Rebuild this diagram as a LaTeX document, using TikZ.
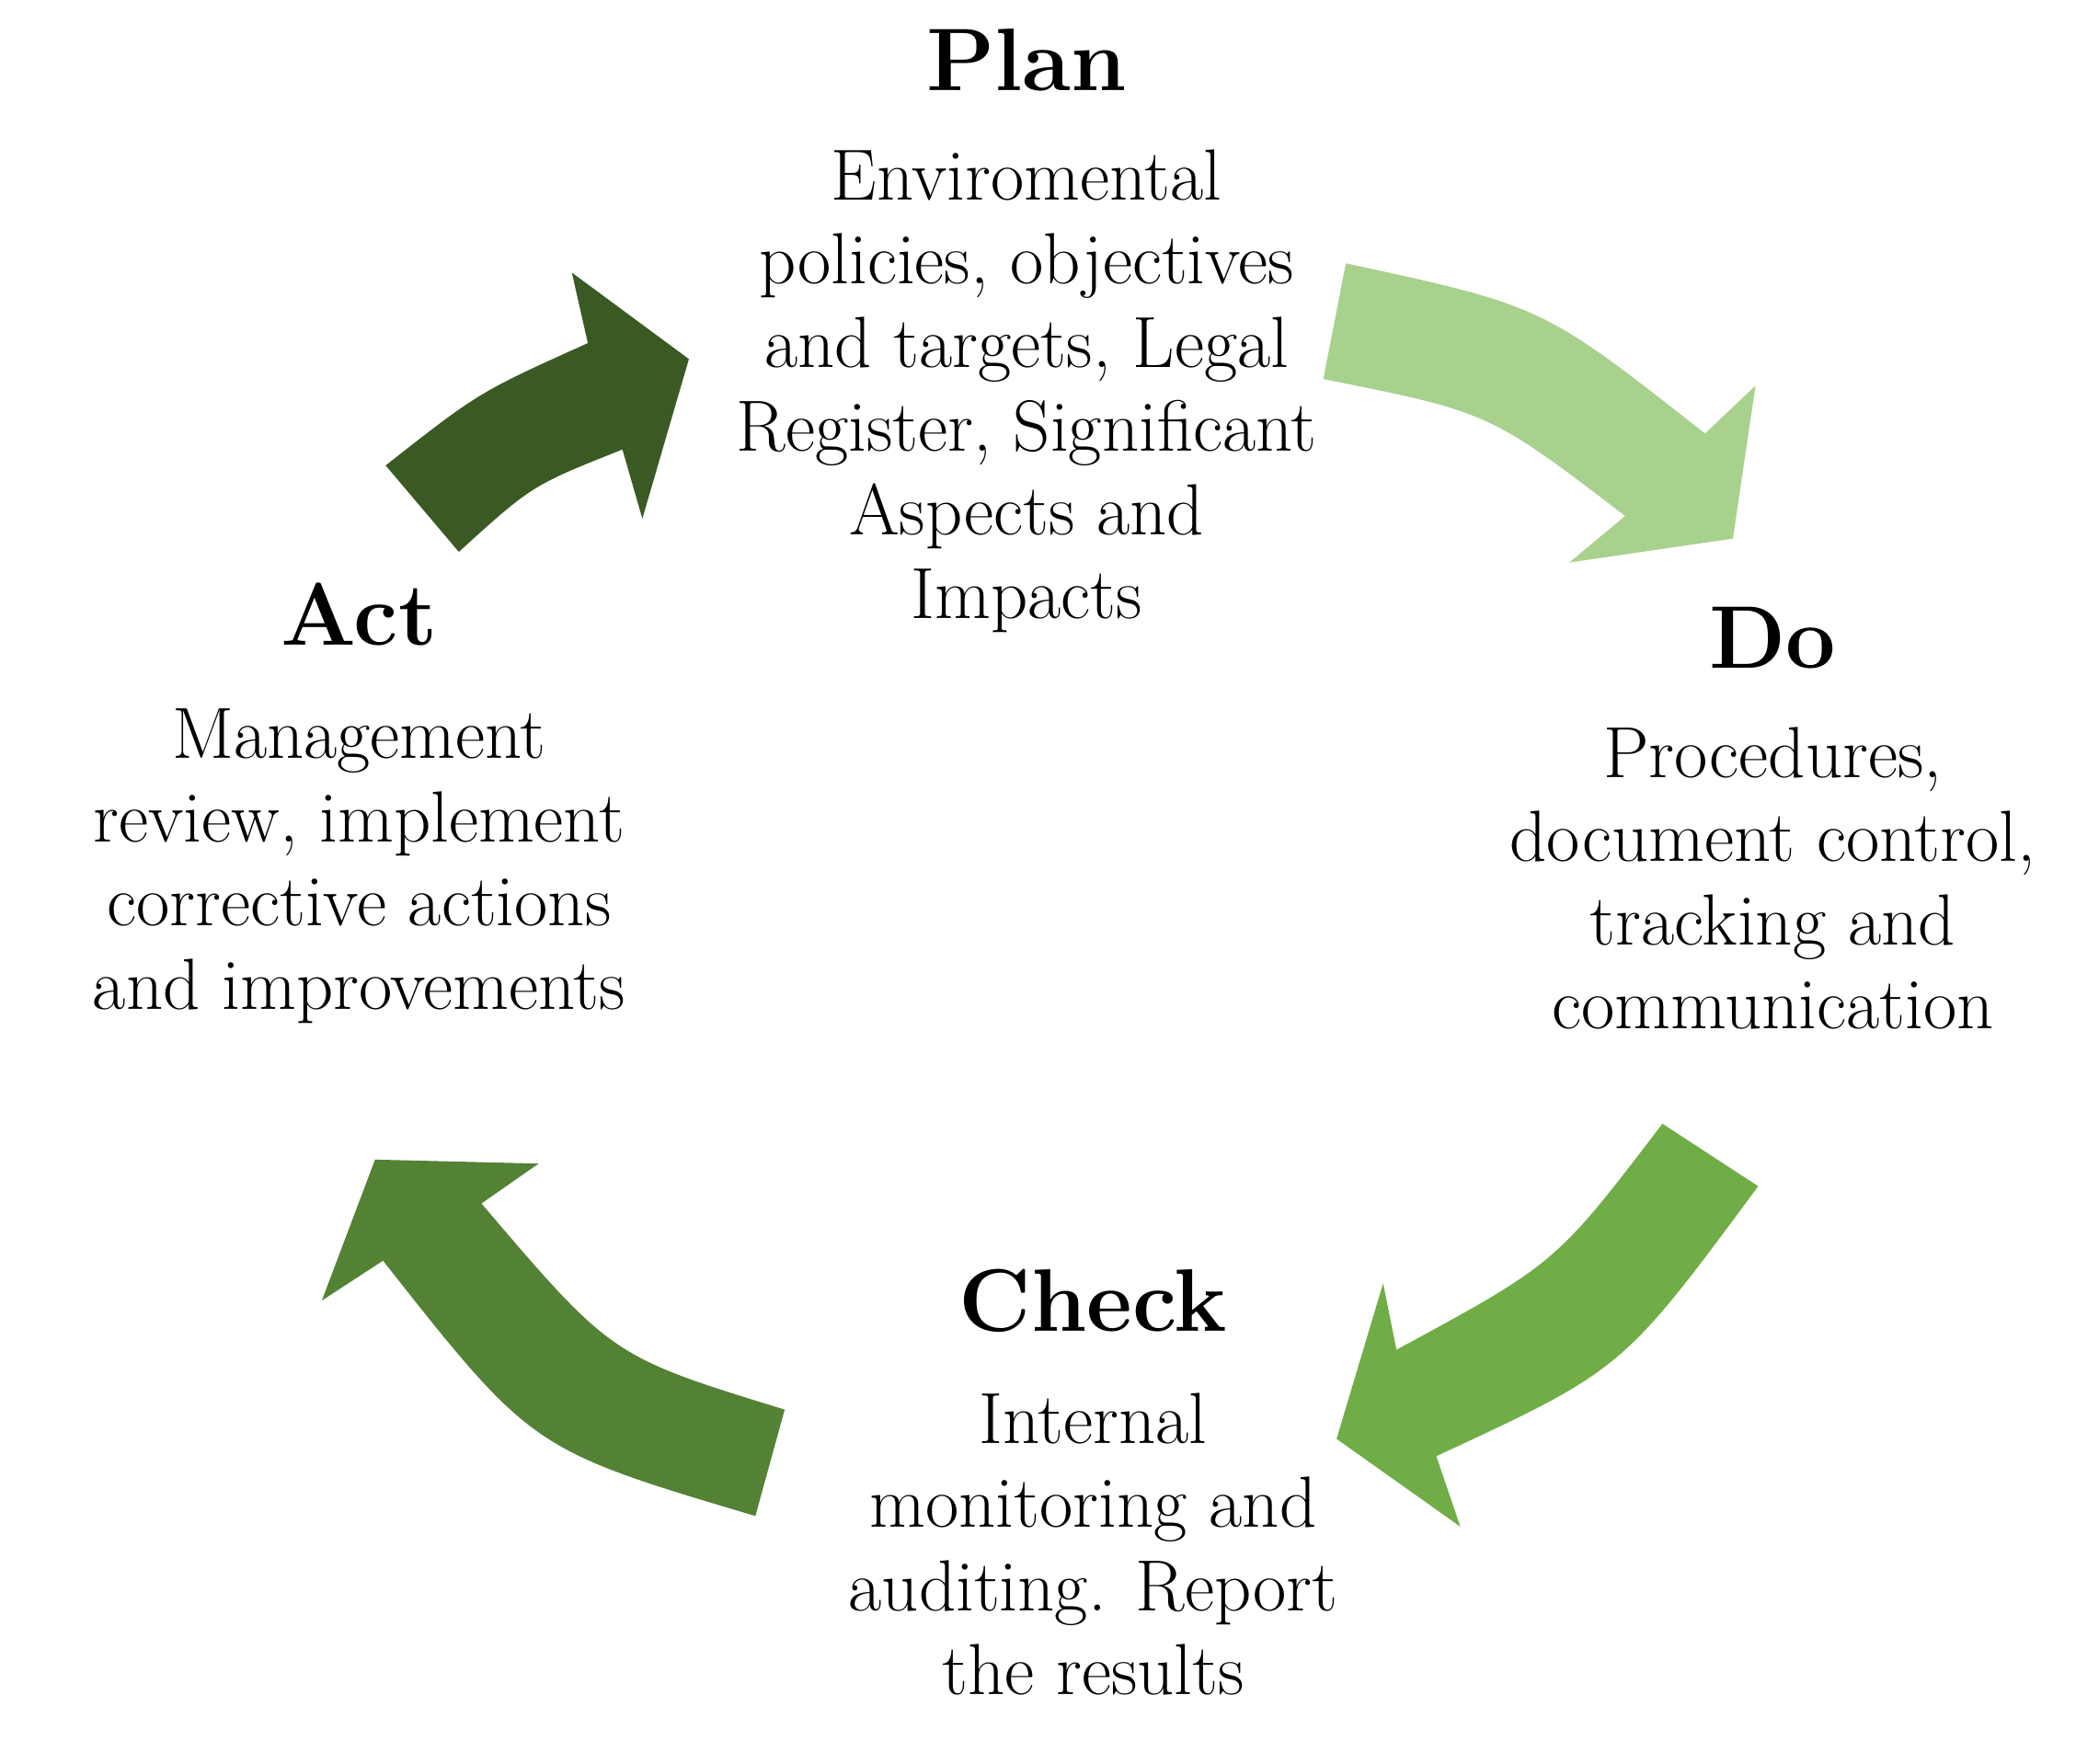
\documentclass[tikz,border=0pt]{standalone}
\usepackage{fontspec}
\setmainfont{Latin Modern Roman}
\begin{document}
\begin{tikzpicture}[x=0.01cm,y=-0.01cm,
  body/.style={align=center,font=\fontsize{15.5}{17.9}\selectfont,anchor=north,inner sep=0pt},
  ttl/.style={font=\fontsize{19}{22}\selectfont\bfseries,anchor=center,inner sep=0pt}]
\definecolor{cLight}{HTML}{A9D18E}
\definecolor{cDark}{HTML}{3B5A23}
\definecolor{cRight}{HTML}{70AD47}
\definecolor{cLeft}{HTML}{548235}
\useasboundingbox (0,0) rectangle (1561,1326);
% arrows
\fill[cLight] (1012,198) .. controls (1160,230) .. (1282,326) -- (1320,290) -- (1303,405) -- (1180,423) -- (1222,388) .. controls (1120,310) .. (995,285) -- cycle;
\fill[cDark] (290,350) .. controls (360,295) .. (442,258) -- (430,205) -- (518,270) -- (483,390) -- (468,338) .. controls (400,365) .. (345,415) -- cycle;
\fill[cRight] (1322,892) .. controls (1220,1030) .. (1080,1095) -- (1098,1148) -- (1005,1082) -- (1040,965) -- (1050,1015) .. controls (1170,950) .. (1250,845) -- cycle;
\fill[cLeft] (568,1140) .. controls (400,1090) .. (288,948) -- (242,978) -- (282,872) -- (405,875) -- (362,905) .. controls (460,1020) .. (590,1060) -- cycle;
% texts
\node[ttl] (plan) at (772,45) {Plan};
\node[body] (planb) at (772,112) {Enviromental\\policies, objectives\\and targets, Legal\\Register, Significant\\Aspects and\\Impacts};
\node[ttl] (act) at (270,462) {Act};
\node[body] (actb) at (270,532) {Management\\review, implement\\corrective actions\\and improvements};
\node[ttl] (do) at (1333,480) {Do};
\node[body] (dob) at (1333,546) {Procedures,\\document control,\\tracking and\\communication};
\node[ttl] (check) at (822,978) {Check};
\node[body] (checkb) at (822,1047) {Internal\\monitoring and\\auditing. Report\\the results};
\end{tikzpicture}
\end{document}
